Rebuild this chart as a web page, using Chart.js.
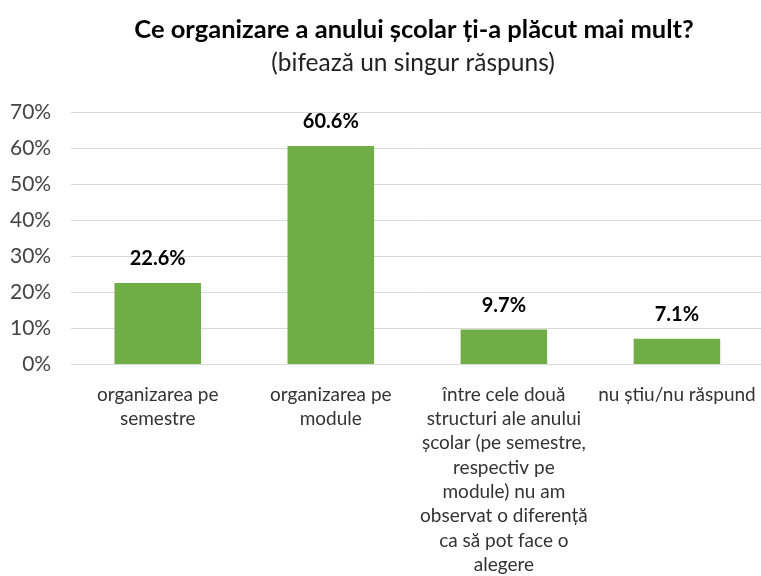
<!DOCTYPE html>
<html>
<head>
<meta charset="utf-8">
<script src="https://cdn.jsdelivr.net/npm/chart.js@4"></script>
<style>
  html, body { margin: 0; padding: 0; background: #fff; overflow: hidden; }
  #wrap { width: 766px; height: 576px; }
</style>
</head>
<body>
<div id="wrap"><canvas id="chart"></canvas></div>
<script>
const titleText = 'Ce organizare a anului școlar ți-a plăcut mai mult?';
const subtitleText = '(bifează un singur răspuns)';

const categories = [
  ['organizarea pe', 'semestre'],
  ['organizarea pe', 'module'],
  ['între cele două', 'structuri ale anului', 'școlar (pe semestre,', 'respectiv pe', 'module) nu am', 'observat o diferență', 'ca să pot face o', 'alegere'],
  ['nu știu/nu răspund']
];
const values = [22.6, 60.6, 9.7, 7.1];
const yTicks = [0, 10, 20, 30, 40, 50, 60, 70];

const FONT = 'Lato, "Open Sans", sans-serif';

// titles and value labels drawn by hand (Excel-style placement)
const decorations = {
  id: 'decorations',
  afterDatasetsDraw(chart) {
    const ctx = chart.ctx;
    ctx.save();
    ctx.fillStyle = '#000';
    ctx.textAlign = 'center';
    ctx.textBaseline = 'middle';
    ctx.font = 'bold 20px ' + FONT;
    const meta = chart.getDatasetMeta(0);
    meta.data.forEach((bar, i) => {
      ctx.fillText(values[i].toFixed(1) + '%', bar.x, bar.y - 24);
    });

    ctx.font = 'bold 25.5px ' + FONT;
    ctx.fillText(titleText, 414, 30);
    ctx.fillStyle = '#222';
    ctx.font = '24.5px ' + FONT;
    ctx.fillText(subtitleText, 413, 63);
    ctx.restore();
  }
};

new Chart(document.getElementById('chart'), {
  type: 'bar',
  data: {
    labels: categories,
    datasets: [{
      data: values,
      backgroundColor: '#70AD47',
      borderWidth: 0,
      categoryPercentage: 1,
      barPercentage: 0.5
    }]
  },
  options: {
    responsive: true,
    maintainAspectRatio: false,
    animation: false,
    layout: { padding: { top: 112, left: -10, right: 2, bottom: -11 } },
    plugins: {
      legend: { display: false },
      tooltip: { enabled: false },
      title: { display: false }
    },
    scales: {
      x: {
        grid: { display: false },
        border: { color: '#d9d9d9' },
        ticks: {
          color: '#333',
          padding: 10,
          maxRotation: 0,
          autoSkip: false,
          font: { family: FONT, size: 19, lineHeight: 1.28 }
        }
      },
      y: {
        min: 0,
        max: 70,
        afterBuildTicks(axis) { axis.ticks = yTicks.map(v => ({ value: v })); },
        grid: { color: '#d9d9d9', drawTicks: false },
        border: { display: false },
        ticks: {
          color: '#444',
          padding: 20,
          font: { family: FONT, size: 21 },
          callback: v => v + '%'
        }
      }
    }
  },
  plugins: [decorations]
});
</script>
</body>
</html>
